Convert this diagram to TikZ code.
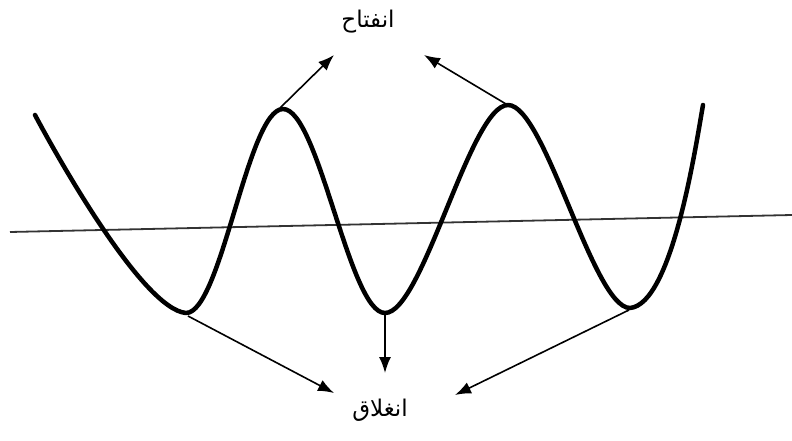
\documentclass[tikz,border=0pt]{standalone}
\usepackage{fontspec}
\newfontfamily\arabicfont[Script=Arabic]{DejaVu Sans}
\TeXXeTstate=1
\usetikzlibrary{arrows.meta}
\begin{document}
\begin{tikzpicture}[x=1pt,y=-1pt,
  wave/.style={line width=4.5pt,line cap=round,line join=round},
  axisline/.style={line width=1.8pt,black!80},
  pointer/.style={line width=1.6pt,-{Latex[length=16pt,width=12pt]}},
  label/.style={font=\arabicfont\fontsize{23}{26}\selectfont,inner sep=0pt}]
\useasboundingbox (0,0) rectangle (792,441);
% axis
\coordinate (axL) at (10,232);
\coordinate (axR) at (792,215);
\draw[axisline] (axL) -- (axR);
% wave extrema
\coordinate (s) at (35,115);
\coordinate (mn1) at (186,313);
\coordinate (mx1) at (283,109);
\coordinate (mn2) at (385,313);
\coordinate (mx2) at (508,105);
\coordinate (mn3) at (630,308);
\coordinate (e) at (703,105);
\draw[wave] (s) to[out=-62,in=175,looseness=0.45] (mn1)
  to[out=0,in=180,looseness=0.4] (mx1)
  to[out=0,in=180,looseness=0.4] (mn2)
  to[out=0,in=180,looseness=0.4] (mx2)
  to[out=0,in=180,looseness=0.4] (mn3)
  to[out=5,in=-100,looseness=0.5] (e);
% labels
\node[label] (open) at (368,22) {\beginR انفتاح\endR};
\node[label] (close) at (380,410) {\beginR انغلاق\endR};
% arrow ends
\coordinate (t1) at (334,55);
\coordinate (t2) at (424,55);
\coordinate (b1) at (334,393);
\coordinate (b2) at (385,373);
\coordinate (b3) at (455,395);
\draw[pointer] ([shift={(-3,-1)}]mx1) -- (t1);
\draw[pointer] ([shift={(-2,-1)}]mx2) -- (t2);
\draw[pointer] ([shift={(2,3)}]mn1) -- (b1);
\draw[pointer] ([shift={(0,2)}]mn2) -- (b2);
\draw[pointer] ([shift={(-1,2)}]mn3) -- (b3);
\end{tikzpicture}
\end{document}
